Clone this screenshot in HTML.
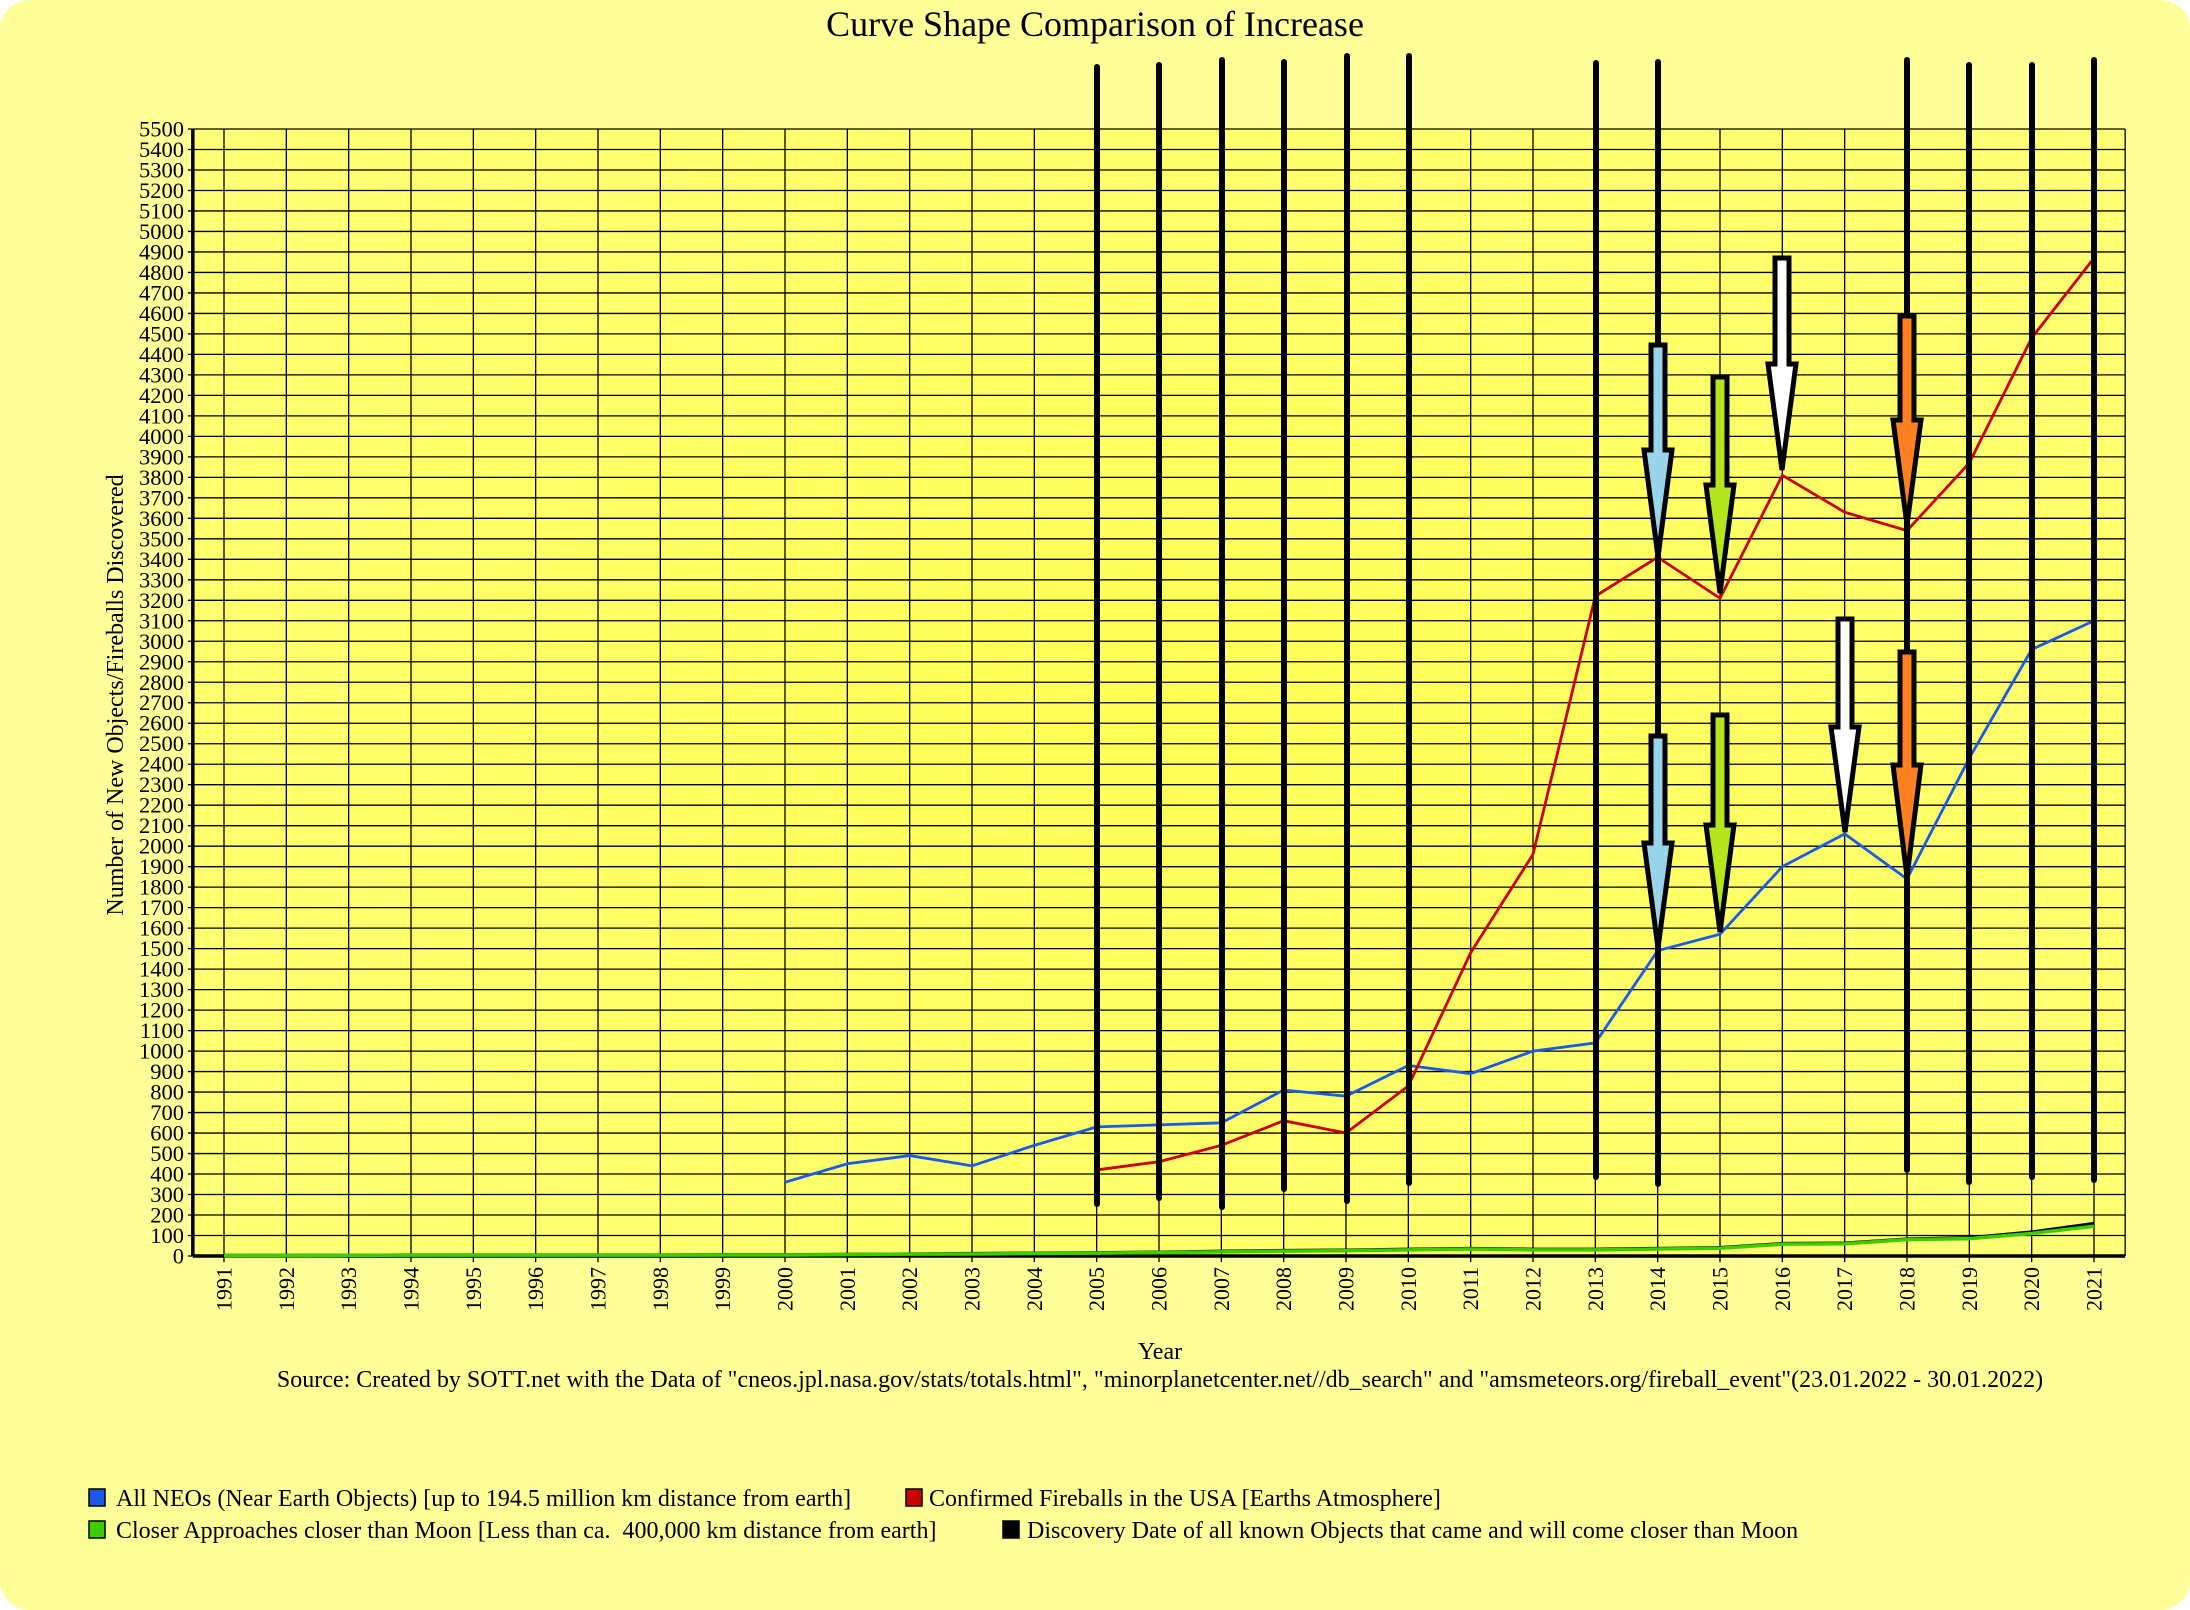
<!DOCTYPE html>
<html><head><meta charset="utf-8"><style>
html,body{margin:0;padding:0;background:#fff;}
svg{display:block;font-family:"Liberation Serif",serif;}
</style></head><body>
<svg width="2190" height="1610" viewBox="0 0 2190 1610" xmlns="http://www.w3.org/2000/svg">
<defs>
<radialGradient id="pg" cx="50%" cy="50%" r="75%">
<stop offset="0" stop-color="#ffff55"/><stop offset="1" stop-color="#ffff7a"/>
</radialGradient>
</defs>
<rect x="0" y="0" width="2190" height="1610" rx="30" fill="#ffff99"/>
<text x="1095" y="36" font-size="36" text-anchor="middle">Curve Shape Comparison of Increase</text>
<rect x="193" y="129" width="1933" height="1127" fill="url(#pg)"/>
<g transform="translate(224,1256) scale(62.3333,-0.20491)" stroke="#000" fill="none">
<path vector-effect="non-scaling-stroke" stroke-width="1.3" d="M-0.5 100H30.5M-0.5 200H30.5M-0.5 300H30.5M-0.5 400H30.5M-0.5 500H30.5M-0.5 600H30.5M-0.5 700H30.5M-0.5 800H30.5M-0.5 900H30.5M-0.5 1000H30.5M-0.5 1100H30.5M-0.5 1200H30.5M-0.5 1300H30.5M-0.5 1400H30.5M-0.5 1500H30.5M-0.5 1600H30.5M-0.5 1700H30.5M-0.5 1800H30.5M-0.5 1900H30.5M-0.5 2000H30.5M-0.5 2100H30.5M-0.5 2200H30.5M-0.5 2300H30.5M-0.5 2400H30.5M-0.5 2500H30.5M-0.5 2600H30.5M-0.5 2700H30.5M-0.5 2800H30.5M-0.5 2900H30.5M-0.5 3000H30.5M-0.5 3100H30.5M-0.5 3200H30.5M-0.5 3300H30.5M-0.5 3400H30.5M-0.5 3500H30.5M-0.5 3600H30.5M-0.5 3700H30.5M-0.5 3800H30.5M-0.5 3900H30.5M-0.5 4000H30.5M-0.5 4100H30.5M-0.5 4200H30.5M-0.5 4300H30.5M-0.5 4400H30.5M-0.5 4500H30.5M-0.5 4600H30.5M-0.5 4700H30.5M-0.5 4800H30.5M-0.5 4900H30.5M-0.5 5000H30.5M-0.5 5100H30.5M-0.5 5200H30.5M-0.5 5300H30.5M-0.5 5400H30.5M-0.5 5500H30.5M30.5 0V5500"/>
<path vector-effect="non-scaling-stroke" stroke-width="1.3" d="M0 -30V5500M1 -30V5500M2 -30V5500M3 -30V5500M4 -30V5500M5 -30V5500M6 -30V5500M7 -30V5500M8 -30V5500M9 -30V5500M10 -30V5500M11 -30V5500M12 -30V5500M13 -30V5500M14 -30V5500M15 -30V5500M16 -30V5500M17 -30V5500M18 -30V5500M19 -30V5500M20 -30V5500M21 -30V5500M22 -30V5500M23 -30V5500M24 -30V5500M25 -30V5500M26 -30V5500M27 -30V5500M28 -30V5500M29 -30V5500M30 -30V5500"/>
<path vector-effect="non-scaling-stroke" stroke-width="1.3" d="M-0.58 0H-0.5M-0.58 100H-0.5M-0.58 200H-0.5M-0.58 300H-0.5M-0.58 400H-0.5M-0.58 500H-0.5M-0.58 600H-0.5M-0.58 700H-0.5M-0.58 800H-0.5M-0.58 900H-0.5M-0.58 1000H-0.5M-0.58 1100H-0.5M-0.58 1200H-0.5M-0.58 1300H-0.5M-0.58 1400H-0.5M-0.58 1500H-0.5M-0.58 1600H-0.5M-0.58 1700H-0.5M-0.58 1800H-0.5M-0.58 1900H-0.5M-0.58 2000H-0.5M-0.58 2100H-0.5M-0.58 2200H-0.5M-0.58 2300H-0.5M-0.58 2400H-0.5M-0.58 2500H-0.5M-0.58 2600H-0.5M-0.58 2700H-0.5M-0.58 2800H-0.5M-0.58 2900H-0.5M-0.58 3000H-0.5M-0.58 3100H-0.5M-0.58 3200H-0.5M-0.58 3300H-0.5M-0.58 3400H-0.5M-0.58 3500H-0.5M-0.58 3600H-0.5M-0.58 3700H-0.5M-0.58 3800H-0.5M-0.58 3900H-0.5M-0.58 4000H-0.5M-0.58 4100H-0.5M-0.58 4200H-0.5M-0.58 4300H-0.5M-0.58 4400H-0.5M-0.58 4500H-0.5M-0.58 4600H-0.5M-0.58 4700H-0.5M-0.58 4800H-0.5M-0.58 4900H-0.5M-0.58 5000H-0.5M-0.58 5100H-0.5M-0.58 5200H-0.5M-0.58 5300H-0.5M-0.58 5400H-0.5M-0.58 5500H-0.5"/>
<path vector-effect="non-scaling-stroke" stroke-width="3.5" d="M-0.5 0V5500M-0.5 0H30.5"/>
<polyline vector-effect="non-scaling-stroke" stroke="#1a5ae6" stroke-width="2.8" points="9,360 10,450 11,490 12,440 13,540 14,630 15,640 16,650 17,810 18,780 19,930 20,890 21,1000 22,1040 23,1490 24,1570 25,1900 26,2060 27,1840 28,2430 29,2960 30,3100"/>
<polyline vector-effect="non-scaling-stroke" stroke="#cc0000" stroke-width="2.8" points="14,420 15,460 16,540 17,660 18,600 19,830 20,1480 21,1960 22,3220 23,3410 24,3210 25,3810 26,3630 27,3540 28,3870 29,4480 30,4870"/>
<polyline vector-effect="non-scaling-stroke" stroke="#000" stroke-width="2.8" points="0,4 1,4 2,5 3,6 4,6 5,6 6,6 7,6 8,7 9,7 10,9 11,11 12,13 13,15 14,17 15,20 16,24 17,28 18,30 19,34 20,38 21,34 22,34 23,38 24,42 25,62 26,64 27,84 28,90 29,118 30,160"/>
<polyline vector-effect="non-scaling-stroke" stroke="#3ccc00" stroke-width="3.5" points="0,2 1,2 2,3 3,4 4,4 5,4 6,4 7,4 8,5 9,5 10,7 11,9 12,10 13,12 14,14 15,17 16,20 17,24 18,26 19,30 20,34 21,30 22,30 23,34 24,38 25,58 26,60 27,80 28,85 29,110 30,145"/>
</g>
<g stroke="#000" stroke-width="6" stroke-linecap="round">
<line x1="1097" y1="67" x2="1097" y2="1204"/>
<line x1="1159" y1="65" x2="1159" y2="1198"/>
<line x1="1222" y1="60" x2="1222" y2="1207"/>
<line x1="1284" y1="62" x2="1284" y2="1189"/>
<line x1="1347" y1="56" x2="1347" y2="1201"/>
<line x1="1409" y1="56" x2="1409" y2="1183"/>
<line x1="1596" y1="63" x2="1596" y2="1177"/>
<line x1="1658" y1="62" x2="1658" y2="1184"/>
<line x1="1907" y1="60" x2="1907" y2="1170"/>
<line x1="1969" y1="65" x2="1969" y2="1182"/>
<line x1="2032" y1="65" x2="2032" y2="1177"/>
<line x1="2094" y1="60" x2="2094" y2="1180"/>
</g>
<g stroke="#000" stroke-width="5" stroke-linejoin="miter">
<polygon fill="#99d5ea" points="1651,345 1665,345 1665,450 1672,450 1658,557 1644,450 1651,450"/>
<polygon fill="#b5e61d" points="1713,377 1727,377 1727,485 1734,485 1720,593 1706,485 1713,485"/>
<polygon fill="#ffffff" points="1775,258 1789,258 1789,364 1796,364 1782,470 1768,364 1775,364"/>
<polygon fill="#ff8020" points="1900,316 1914,316 1914,420 1921,420 1907,525 1893,420 1900,420"/>
<polygon fill="#99d5ea" points="1651,736 1665,736 1665,843 1672,843 1658,948 1644,843 1651,843"/>
<polygon fill="#b5e61d" points="1713,715 1727,715 1727,825 1734,825 1720,932 1706,825 1713,825"/>
<polygon fill="#ffffff" points="1838,619 1852,619 1852,727 1859,727 1845,832 1831,727 1838,727"/>
<polygon fill="#ff8020" points="1900,652 1914,652 1914,765 1921,765 1907,877 1893,765 1900,765"/>
</g>
<text font-size="22.5" text-anchor="end"><tspan x="184" y="1263.5">0</tspan><tspan x="184" dy="-20.491">100</tspan><tspan x="184" dy="-20.491">200</tspan><tspan x="184" dy="-20.491">300</tspan><tspan x="184" dy="-20.491">400</tspan><tspan x="184" dy="-20.491">500</tspan><tspan x="184" dy="-20.491">600</tspan><tspan x="184" dy="-20.491">700</tspan><tspan x="184" dy="-20.491">800</tspan><tspan x="184" dy="-20.491">900</tspan><tspan x="184" dy="-20.491">1000</tspan><tspan x="184" dy="-20.491">1100</tspan><tspan x="184" dy="-20.491">1200</tspan><tspan x="184" dy="-20.491">1300</tspan><tspan x="184" dy="-20.491">1400</tspan><tspan x="184" dy="-20.491">1500</tspan><tspan x="184" dy="-20.491">1600</tspan><tspan x="184" dy="-20.491">1700</tspan><tspan x="184" dy="-20.491">1800</tspan><tspan x="184" dy="-20.491">1900</tspan><tspan x="184" dy="-20.491">2000</tspan><tspan x="184" dy="-20.491">2100</tspan><tspan x="184" dy="-20.491">2200</tspan><tspan x="184" dy="-20.491">2300</tspan><tspan x="184" dy="-20.491">2400</tspan><tspan x="184" dy="-20.491">2500</tspan><tspan x="184" dy="-20.491">2600</tspan><tspan x="184" dy="-20.491">2700</tspan><tspan x="184" dy="-20.491">2800</tspan><tspan x="184" dy="-20.491">2900</tspan><tspan x="184" dy="-20.491">3000</tspan><tspan x="184" dy="-20.491">3100</tspan><tspan x="184" dy="-20.491">3200</tspan><tspan x="184" dy="-20.491">3300</tspan><tspan x="184" dy="-20.491">3400</tspan><tspan x="184" dy="-20.491">3500</tspan><tspan x="184" dy="-20.491">3600</tspan><tspan x="184" dy="-20.491">3700</tspan><tspan x="184" dy="-20.491">3800</tspan><tspan x="184" dy="-20.491">3900</tspan><tspan x="184" dy="-20.491">4000</tspan><tspan x="184" dy="-20.491">4100</tspan><tspan x="184" dy="-20.491">4200</tspan><tspan x="184" dy="-20.491">4300</tspan><tspan x="184" dy="-20.491">4400</tspan><tspan x="184" dy="-20.491">4500</tspan><tspan x="184" dy="-20.491">4600</tspan><tspan x="184" dy="-20.491">4700</tspan><tspan x="184" dy="-20.491">4800</tspan><tspan x="184" dy="-20.491">4900</tspan><tspan x="184" dy="-20.491">5000</tspan><tspan x="184" dy="-20.491">5100</tspan><tspan x="184" dy="-20.491">5200</tspan><tspan x="184" dy="-20.491">5300</tspan><tspan x="184" dy="-20.491">5400</tspan><tspan x="184" dy="-20.491">5500</tspan></text>
<g font-size="22" text-anchor="end">
<text transform="translate(231.5,1267) rotate(-90)">1991</text>
<text transform="translate(293.8,1267) rotate(-90)">1992</text>
<text transform="translate(356.2,1267) rotate(-90)">1993</text>
<text transform="translate(418.5,1267) rotate(-90)">1994</text>
<text transform="translate(480.8,1267) rotate(-90)">1995</text>
<text transform="translate(543.2,1267) rotate(-90)">1996</text>
<text transform="translate(605.5,1267) rotate(-90)">1997</text>
<text transform="translate(667.8,1267) rotate(-90)">1998</text>
<text transform="translate(730.2,1267) rotate(-90)">1999</text>
<text transform="translate(792.5,1267) rotate(-90)">2000</text>
<text transform="translate(854.8,1267) rotate(-90)">2001</text>
<text transform="translate(917.2,1267) rotate(-90)">2002</text>
<text transform="translate(979.5,1267) rotate(-90)">2003</text>
<text transform="translate(1041.8,1267) rotate(-90)">2004</text>
<text transform="translate(1104.2,1267) rotate(-90)">2005</text>
<text transform="translate(1166.5,1267) rotate(-90)">2006</text>
<text transform="translate(1228.8,1267) rotate(-90)">2007</text>
<text transform="translate(1291.2,1267) rotate(-90)">2008</text>
<text transform="translate(1353.5,1267) rotate(-90)">2009</text>
<text transform="translate(1415.8,1267) rotate(-90)">2010</text>
<text transform="translate(1478.2,1267) rotate(-90)">2011</text>
<text transform="translate(1540.5,1267) rotate(-90)">2012</text>
<text transform="translate(1602.8,1267) rotate(-90)">2013</text>
<text transform="translate(1665.2,1267) rotate(-90)">2014</text>
<text transform="translate(1727.5,1267) rotate(-90)">2015</text>
<text transform="translate(1789.8,1267) rotate(-90)">2016</text>
<text transform="translate(1852.2,1267) rotate(-90)">2017</text>
<text transform="translate(1914.5,1267) rotate(-90)">2018</text>
<text transform="translate(1976.8,1267) rotate(-90)">2019</text>
<text transform="translate(2039.2,1267) rotate(-90)">2020</text>
<text transform="translate(2101.5,1267) rotate(-90)">2021</text>
</g>
<text transform="translate(123,695) rotate(-90)" font-size="24" text-anchor="middle">Number of New Objects/Fireballs Discovered</text>
<text x="1160" y="1359" font-size="24" text-anchor="middle">Year</text>
<text x="1160" y="1387" font-size="24" text-anchor="middle">Source: Created by SOTT.net with the Data of "cneos.jpl.nasa.gov/stats/totals.html", "minorplanetcenter.net//db_search" and "amsmeteors.org/fireball_event"(23.01.2022 - 30.01.2022)</text>
<g stroke="#000" stroke-width="1.5">
<rect x="89" y="1489" width="16" height="17" fill="#1a5ae6"/>
<rect x="906" y="1489" width="16" height="17" fill="#cc0000"/>
<rect x="89" y="1521" width="16" height="17" fill="#3ccc00"/>
<rect x="1003" y="1521" width="16" height="17" fill="#000"/>
</g>
<g font-size="24">
<text x="116" y="1506">All NEOs (Near Earth Objects) [up to 194.5 million km distance from earth]</text>
<text x="929" y="1506">Confirmed Fireballs in the USA [Earths Atmosphere]</text>
<text x="116" y="1538" xml:space="preserve">Closer Approaches closer than Moon [Less than ca.  400,000 km distance from earth]</text>
<text x="1027" y="1538">Discovery Date of all known Objects that came and will come closer than Moon</text>
</g>
</svg>
</body></html>
